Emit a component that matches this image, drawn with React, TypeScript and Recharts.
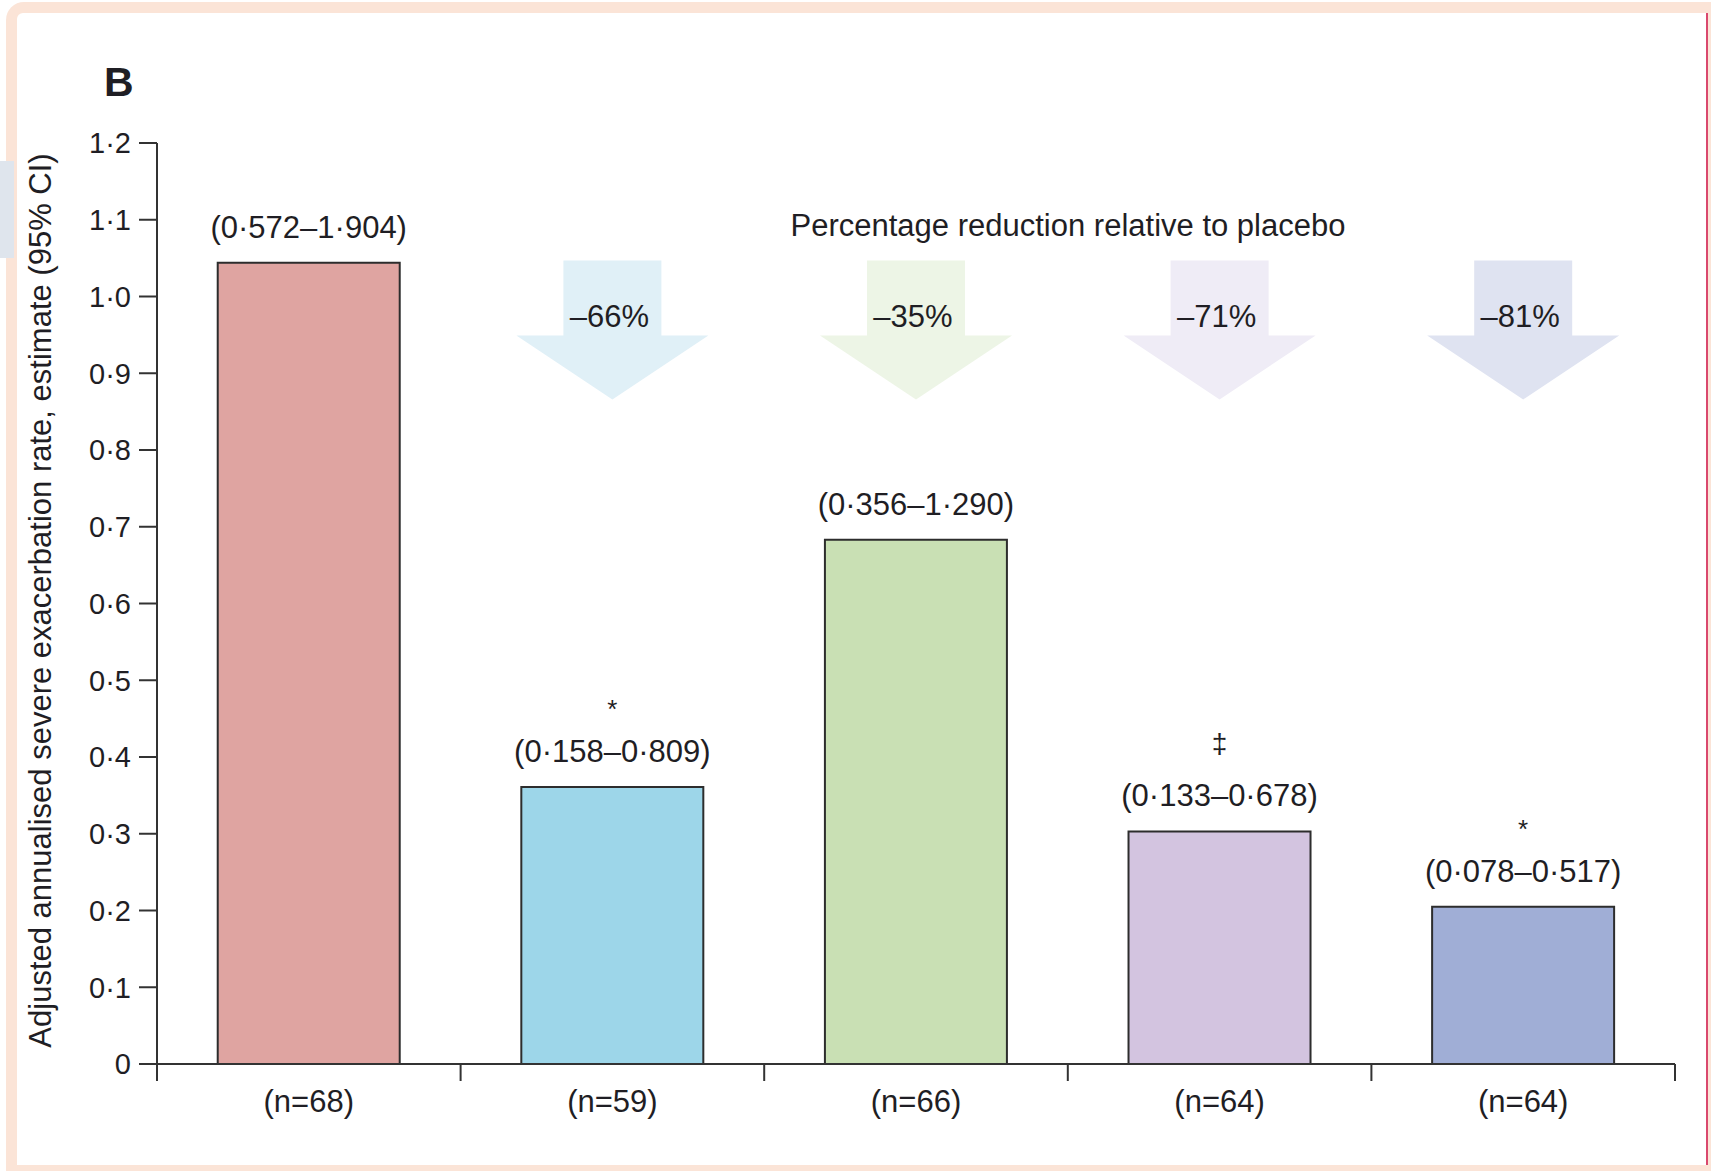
import React from 'react'
import {
  Bar,
  Cell,
  ComposedChart,
  LabelList,
  ReferenceDot,
  XAxis,
  YAxis
} from 'recharts'

// treatment arms, left to right
const arms = ['placebo', 'arm1', 'arm2', 'arm3', 'arm4']
const sampleSizes = [68, 59, 66, 64, 64]
// adjusted annualised severe exacerbation rate
const rates = [1.044, 0.361, 0.683, 0.303, 0.205]
const ciLow = [0.572, 0.158, 0.356, 0.133, 0.078]
const ciHigh = [1.904, 0.809, 1.29, 0.678, 0.517]
const markers = ['', '*', '', '‡', '*']
// % reduction vs placebo
const reductions = [null, -66, -35, -71, -81]
const yTicks = [0, 0.1, 0.2, 0.3, 0.4, 0.5, 0.6, 0.7, 0.8, 0.9, 1.0, 1.1, 1.2]
const edgeTicks = [0, 0.5, 1, 1.5, 2, 2.5, 3, 3.5, 4, 4.5, 5]

const barFills = ['#dfa4a1', '#9dd6e9', '#c9e0b4', '#d3c4e0', '#a0aed6']
const arrowFills = ['none', '#e0f0f7', '#edf5e6', '#efecf6', '#dfe3f1']

const FONT = "'Liberation Sans', Arial, sans-serif"
const INK = '#1f1e24'
const LINE = '#333333'
const TICK_LEN = 17
const ARROW_TOP = 1.047

const dot = (v: number, digits: number) => v.toFixed(digits).replace('.', '\u00b7')

const data = arms.map((arm, i) => ({
  arm,
  pos: i + 0.5,
  rate: rates[i],
  ci: `(${dot(ciLow[i], 3)}\u2013${dot(ciHigh[i], 3)})`
}))

function BarNote(props: any) {
  const { x, y, width, index } = props
  const cx = x + width / 2
  const mark = markers[index]
  return (
    <g fontFamily={FONT} fill={INK} textAnchor="middle">
      <text x={cx} y={y - 25} fontSize={31}>{data[index].ci}</text>
      {mark === '*' && <text x={cx} y={y - 69} fontSize={26}>*</text>}
      {mark === '‡' && <text x={cx} y={y - 78} fontSize={28}>‡</text>}
    </g>
  )
}

function EdgeTick(props: any) {
  const { x, y, payload } = props
  const v = payload.value as number
  if (Number.isInteger(v)) {
    return <line x1={x} x2={x} y1={y - TICK_LEN} y2={y} stroke={LINE} strokeWidth={2} />
  }
  const i = Math.floor(v)
  return (
    <text x={x} y={y + 31} textAnchor="middle" fontFamily={FONT} fontSize={31} fill={INK}>
      (n={sampleSizes[i]})
    </text>
  )
}

function Arrow(pct: number, fill: string) {
  return (props: any) => {
    const { cx, cy } = props
    const shaft = 49
    const head = 96
    const neck = cy + 75
    const tip = cy + 139
    const pts = [
      [cx - shaft, cy], [cx + shaft, cy], [cx + shaft, neck], [cx + head, neck],
      [cx, tip], [cx - head, neck], [cx - shaft, neck]
    ].map((p) => p.join(',')).join(' ')
    return (
      <g>
        <polygon points={pts} fill={fill} />
        <text x={cx - 3} y={cy + 67} textAnchor="middle" fontFamily={FONT} fontSize={31} fill={INK}>
          {'\u2013' + Math.abs(pct) + '%'}
        </text>
      </g>
    )
  }
}

function AxisTitle(props: any) {
  const { viewBox } = props
  const cy = viewBox.y + viewBox.height / 2 - 3
  const cx = 51
  return (
    <text x={cx} y={cy} transform={`rotate(-90 ${cx} ${cy})`} textAnchor="middle"
      fontFamily={FONT} fontSize={31} fill={INK}>
      Adjusted annualised severe exacerbation rate, estimate (95% CI)
    </text>
  )
}

export default function App() {
  return (
    <div style={{ position: 'absolute', left: 0, top: 0, width: 1711, height: 1171, background: '#fff' }}>
      {/* page frame */}
      <div style={{ position: 'absolute', left: 6, top: 2, width: 1705, height: 1169, background: '#fbe4d7', borderTopLeftRadius: 18 }} />
      <div style={{ position: 'absolute', left: 17, top: 13, width: 1689, height: 1152, background: '#fff', borderTopLeftRadius: 6 }} />
      <div style={{ position: 'absolute', left: 1706, top: 13, width: 2, height: 1152, background: '#d9486e' }} />
      <div style={{ position: 'absolute', left: 0, top: 161, width: 14, height: 97, background: '#dfe5ed' }} />

      <div style={{ position: 'absolute', left: 0, top: 0 }}>
        <ComposedChart width={1711} height={1171} data={data} barCategoryGap="20%"
          margin={{ top: 143, right: 36, bottom: 0, left: 0 }}>
          <XAxis xAxisId="cat" dataKey="arm" type="category" hide height={0} />
          <XAxis xAxisId="edge" dataKey="pos" type="number" domain={[0, 5]} ticks={edgeTicks} interval={0}
            allowDataOverflow height={107} tickSize={TICK_LEN} tickMargin={0} tickLine={false}
            axisLine={{ stroke: LINE, strokeWidth: 2 }} tick={<EdgeTick />} />
          <YAxis type="number" domain={[0, 1.2]} ticks={yTicks} interval={0} width={157}
            tickSize={18} tickMargin={8} tickFormatter={(v: number) => (v === 0 ? '0' : dot(v, 1))}
            tick={{ fontFamily: FONT, fontSize: 29, fill: INK }}
            tickLine={{ stroke: LINE, strokeWidth: 2 }} axisLine={{ stroke: LINE, strokeWidth: 2 }}
            label={<AxisTitle />} />
          {reductions.map((r, i) =>
            r === null ? null : (
              <ReferenceDot key={arms[i]} xAxisId="cat" x={arms[i]} y={ARROW_TOP}
                shape={Arrow(r, arrowFills[i])} />
            )
          )}
          <Bar xAxisId="cat" dataKey="rate" isAnimationActive={false}>
            {data.map((d, i) => (
              <Cell key={d.arm} fill={barFills[i]} stroke="#2d2d2d" strokeWidth={2} />
            ))}
            <LabelList dataKey="rate" content={<BarNote />} />
          </Bar>
        </ComposedChart>
      </div>

      <svg width={1711} height={1171} style={{ position: 'absolute', left: 0, top: 0, pointerEvents: 'none' }}>
        <text x={104} y={96} fontFamily={FONT} fontWeight="bold" fontSize={41} fill={INK}>B</text>
        <text x={1068} y={236} textAnchor="middle" fontFamily={FONT} fontSize={31} fill={INK}>
          Percentage reduction relative to placebo
        </text>
      </svg>
    </div>
  )
}
